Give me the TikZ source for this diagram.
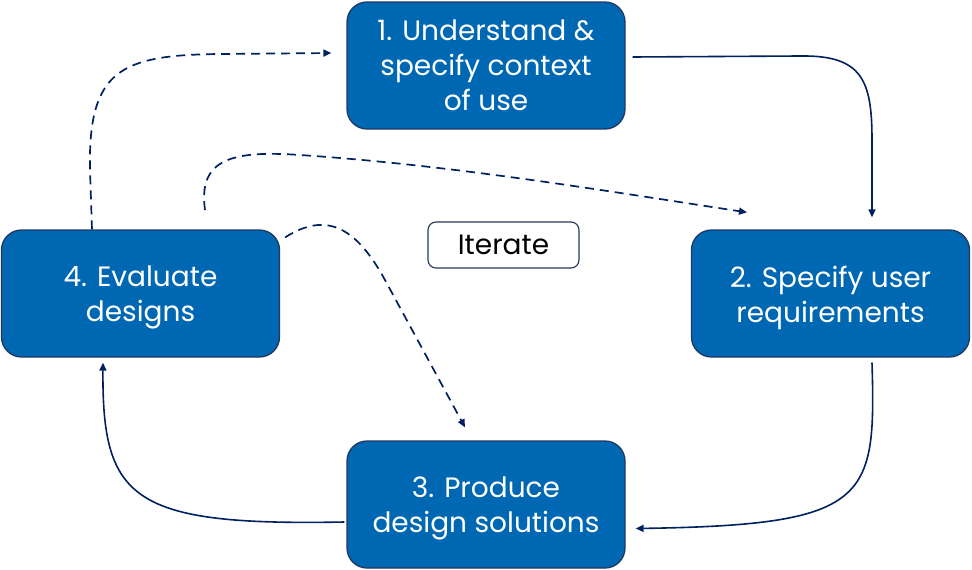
\documentclass[tikz,border=0pt]{standalone}
\usepackage{fontspec}
\setmainfont{Poppins}
\usetikzlibrary{arrows.meta}
\definecolor{boxblue}{HTML}{0068B2}
\definecolor{navy}{HTML}{002060}
\definecolor{boxedge}{HTML}{1F3864}
\newcommand{\lowline}[1]{\raisebox{-4pt}[\height][\depth]{#1}}
\tikzset{
  stepbox/.style={draw=boxedge, line width=1.3pt, fill=boxblue, rounded corners=20pt,
    minimum width=278pt, minimum height=127pt, text=white, align=center,
    font=\fontsize{28}{35}\selectfont, inner sep=0pt},
  iterbox/.style={draw=boxedge, line width=1.1pt, fill=white, rounded corners=8pt,
    minimum width=151pt, minimum height=46pt, text=black,
    font=\fontsize{28}{30}\selectfont, inner sep=0pt},
  flow/.style={draw=navy, line width=1.6pt, -{Triangle[length=8pt,width=7pt]}},
  loopback/.style={flow, line width=1.7pt, dash pattern=on 9pt off 6pt}
}
\begin{document}
\begin{tikzpicture}[x=1pt,y=-1pt]
\useasboundingbox (0,0) rectangle (972,570);
\node[stepbox] (b1) at (486,65.5) {1. Understand \&\\specify context\\of use};
\node[stepbox] (b2) at (830.5,293.5) {\lowline{2. Specify user}\\\lowline{requirements}};
\node[stepbox] (b3) at (486,504.5) {\lowline{3. Produce}\\\lowline{design solutions}};
\node[stepbox] (b4) at (140.5,293.5) {\lowline{4. Evaluate}\\\lowline{designs}};
\node[iterbox] (it) at (503.5,245) {Iterate};
\coordinate (free) at (205,210);
% solid cycle
\draw[flow] ([shift={(7,-8.5)}]b1.east) -- (800,56) .. controls (862,55) and (872,80) .. (872,140) -- ([shift={(41.5,-12)}]b2.north);
\draw[flow] ([shift={(41.5,5)}]b2.south) .. controls (876,500) and (870,525) .. ([shift={(10,24)}]b3.east);
\draw[flow] ([shift={(-2,17.5)}]b3.west) .. controls (132,526) and (102,500) .. ([shift={(-37.5,5)}]b4.south);
% dashed iterations
\draw[loopback] ([shift={(-48.5,0)}]b4.north) -- (90,170) .. controls (88,70) and (120,55) .. (220,54) -- ([shift={(-15,-12.5)}]b1.west);
\draw[loopback] (free) .. controls (198,160) and (230,150) .. (300,155) .. controls (450,165) and (600,190) .. ([shift={(-83.5,-17)}]b2.north);
\draw[loopback] ([shift={(5,8)}]b4.north east) .. controls (325,212) and (355,225) .. (385,280) -- ([shift={(-21,-13)}]b3.north);
\end{tikzpicture}
\end{document}
